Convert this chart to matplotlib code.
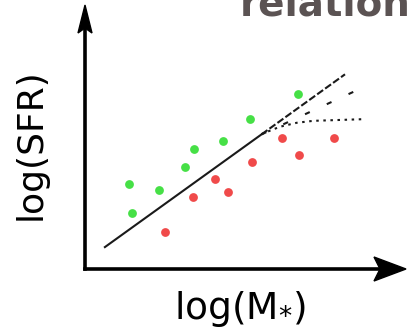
import matplotlib
matplotlib.use("Agg")
import matplotlib.pyplot as plt
import numpy as np
from matplotlib.patches import Polygon

# star-forming (green) and quiescent-ish (red) galaxies
green_mass = [1.38, 1.47, 2.31, 3.12, 3.40, 4.29, 5.13, 6.64]
green_sfr = [2.57, 1.69, 2.39, 3.08, 3.64, 3.87, 4.55, 5.30]
red_mass = [2.50, 3.36, 4.05, 4.46, 5.21, 6.15, 6.68, 7.76]
red_sfr = [1.13, 2.17, 2.73, 2.34, 3.25, 3.98, 3.46, 3.98]

# main sequence fit and its possible high-mass behaviours
slope, intercept = 0.70, 0.23
fit_mass = [0.62, 5.50]
ext_mass = [5.50, 8.10]
shallow_slope = 0.45
shallow_mass = [5.50, 8.36]
turnover_mass = [5.50, 6.07, 6.59, 7.11, 8.67]
turnover_sfr = [4.09, 4.31, 4.43, 4.49, 4.54]

W, H = 408, 329
fig = plt.figure(figsize=(W / 100, H / 100), dpi=100)
ax = fig.add_axes([85 / W, 60 / H, 321 / W, 264 / H])
ax.set_xlim(0, 10)
ax.set_ylim(0, 8)
ax.axis("off")

ax.scatter(green_mass, green_sfr, s=40, color="#46e046", zorder=3, linewidths=0)
ax.scatter(red_mass, red_sfr, s=40, color="#f04a4a", zorder=3, linewidths=0)

lc = "#1a1a1a"
fm = np.array(fit_mass)
ax.plot(fm, slope * fm + intercept, color=lc, lw=1.5)
em = np.array(ext_mass)
ax.plot(em, slope * em + intercept, color=lc, lw=1.5, dashes=(3.5, 1.2))
sm = np.array(shallow_mass)
y0 = slope * shallow_mass[0] + intercept
ax.plot(sm, y0 + shallow_slope * (sm - sm[0]), color=lc, lw=1.5, dashes=(2.5, 9))
ax.plot(turnover_mass, turnover_sfr, color=lc, lw=1.5, dashes=(1.2, 2.2))

# axes drawn as arrows
def px(x, y):
    return (x / W, 1 - y / H)

fig.add_artist(plt.Line2D([85 / W, 85 / W], [1 - 269 / H, 1 - 28 / H], color="black", lw=2.6))
fig.add_artist(plt.Line2D([85 / W, 380 / W], [1 - 269 / H, 1 - 269 / H], color="black", lw=2.6))
fig.add_artist(Polygon([px(85, 5), px(92, 33), px(85, 28), px(78, 33)], closed=True,
                       color="black", transform=fig.transFigure))
fig.add_artist(Polygon([px(406, 269), px(374, 257), px(380, 269), px(374, 281)], closed=True,
                       color="black", transform=fig.transFigure))

fig.text(240 / W, 1 - 319 / H, r"log(M$_{*}$)", fontsize=27, ha="center", va="baseline")
fig.text(31 / W, 1 - 144 / H, "log(SFR)", fontsize=26, rotation=90, ha="center", va="center")
fig.text(240 / W, 1 - 15 / H, "relation", fontsize=28, fontweight="bold",
         color="#5b5353", ha="left", va="baseline")

fig.savefig("out.png", dpi=100)
